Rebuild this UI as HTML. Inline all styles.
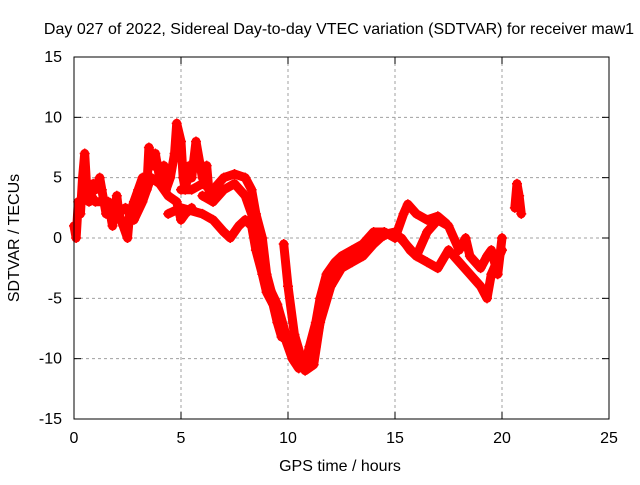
<!DOCTYPE html>
<html><head><meta charset="utf-8"><style>
body{margin:0;background:#fff}
svg text{font-family:"Liberation Sans",sans-serif;font-size:16px;fill:#000}
</style></head><body>
<svg id="chart" width="640" height="480" xmlns="http://www.w3.org/2000/svg">
<rect width="640" height="480" fill="#fff"/>
<text x="339" y="34" text-anchor="middle">Day 027 of 2022, Sidereal Day-to-day VTEC variation (SDTVAR) for receiver maw1</text>
<text x="340" y="471" text-anchor="middle">GPS time / hours</text>
<text transform="translate(19,238) rotate(-90)" text-anchor="middle">SDTVAR / TECUs</text>
<g id="grid"></g>
<g id="ticks"></g>
<g id="series"></g>
<rect x="74" y="57" width="535" height="362" fill="none" stroke="#000"/>
</svg>
<script>
const xTicks=[0,5,10,15,20,25];
const yTicks=[-15,-10,-5,0,5,10,15];
const trackA=[[0,1],[0.1,0],[0.2,3],[0.3,2],[0.4,5],[0.5,7],[0.6,4],[0.7,3],[0.9,4.5],[1,4],[1.2,5],[1.3,4],[1.5,2],[1.6,3],[1.8,1],[2,3.5],[2.1,2],[2.3,1],[2.5,0],[2.6,2],[2.8,3],[3,4],[3.2,5],[3.4,4],[3.5,7.5],[3.7,6],[3.8,7],[4,5],[4.2,6],[4.3,4],[4.5,5],[4.7,7],[4.8,9.5],[5,8],[5.1,5],[5.2,4],[5.4,6],[5.5,5],[5.7,8],[5.9,6],[6,5],[6.2,6],[6.3,4],[6.5,3]];
const trackA2=[[0.3,3],[0.6,4],[1,3],[1.4,3],[1.7,2],[2,2],[2.4,2.5],[2.8,1.5],[3.2,3],[3.6,5],[4,4.5],[4.4,3.5],[4.8,3],[5,1.5],[5.2,2],[5.5,2.5]];
const trackB=[[5,4],[5.5,4],[6,4.5],[6.5,4],[7,5],[7.5,5.3],[8,5],[8.3,4],[8.5,2],[8.8,0],[9,-3],[9.3,-5],[9.5,-6.5],[9.8,-8],[10.2,-10],[10.5,-10.8],[10.8,-10.5],[11,-9],[11.3,-7],[11.5,-5],[11.8,-3],[12.2,-2],[12.5,-1.5],[13,-1],[13.5,-0.5],[14,0.5],[14.5,0.5],[15,0],[15.4,2],[15.6,2.8],[16,2],[16.5,1.5],[17,1.8],[17.4,1.2]];
const trackB2=[[6,3.5],[6.5,3],[7,4],[7.5,4.5],[8,3.5],[8.5,1],[8.8,-1.5],[9.1,-4],[9.5,-5.5],[9.9,-8],[10.3,-9.5],[10.6,-10],[11,-10.2],[11.3,-9],[11.6,-6],[12,-3.5],[12.5,-2],[13,-1.5],[13.5,-1],[14,0],[14.5,0.2]];
const trackC=[[4.4,2],[5,2.5],[6,2],[6.5,1.5],[7,0.5],[7.3,0],[7.7,1],[8,1.5],[8.3,1],[8.5,-1],[8.8,-3],[9,-4.5],[9.3,-5.5],[9.5,-7],[9.7,-8.2]];
const trackD=[[9.8,-0.5],[10,-4],[10.3,-8],[10.8,-11],[11.2,-10.5],[11.5,-7],[12,-4],[12.5,-2.5],[13,-2],[13.5,-1.5],[14,-0.5],[14.5,0.3],[15,0.5],[15.5,-0.5],[16,-1.5],[16.5,-2],[17,-2.5],[17.5,-1],[18,-2],[18.5,-3],[19,-4],[19.3,-5],[19.5,-3],[20,-1]];
const trackE=[[15.3,0],[15.7,-1],[16,-1.5],[16.5,0.5],[17,1.5],[17.5,1],[18,-1],[18.3,0],[18.5,-1.5],[19,-2.5],[19.3,-1.5],[19.5,-1],[19.8,-3],[20,0]];
const trackF=[[20.6,2.5],[20.7,4.5],[20.8,3.5],[20.9,2]];
const tracks=[trackA,trackA2,trackB,trackB2,trackC,trackD,trackE,trackF];
const X=v=>74+v*535/25, Y=v=>238-v*362/30;
const NS="http://www.w3.org/2000/svg";
function mk(tag,attrs,parent){const e=document.createElementNS(NS,tag);for(const k in attrs)e.setAttribute(k,attrs[k]);parent.appendChild(e);return e;}
const grid=document.getElementById('grid'),ticks=document.getElementById('ticks'),ser=document.getElementById('series');
xTicks.forEach(t=>{
 if(t>0&&t<25){const l=mk('line',{x1:X(t),x2:X(t),y1:57,y2:419,stroke:'#a0a0a0','stroke-dasharray':'3,3'},grid);
 
 }
 mk('line',{x1:X(t),x2:X(t),y1:419,y2:412,stroke:'#000'},ticks);mk('line',{x1:X(t),x2:X(t),y1:57,y2:64,stroke:'#000'},ticks);
 const tx=mk('text',{x:X(t),y:443,'text-anchor':'middle'},ticks);tx.textContent=t;
 
 
});
yTicks.forEach(t=>{
 if(t>-15&&t<15){const l=mk('line',{x1:74,x2:609,y1:Y(t),y2:Y(t),stroke:'#a0a0a0','stroke-dasharray':'3,3'},grid);
 
 }
 mk('line',{x1:74,x2:81,y1:Y(t),y2:Y(t),stroke:'#000'},ticks);mk('line',{x1:609,x2:602,y1:Y(t),y2:Y(t),stroke:'#000'},ticks);
 const tx=mk('text',{x:62,y:Y(t)+5,'text-anchor':'end'},ticks);tx.textContent=t;
 
 
});
tracks.forEach((tr,i)=>{
 const pl=mk('polyline',{points:tr.map(p=>X(p[0])+','+Y(p[1])).join(' '),fill:'none',stroke:'#ff0000','stroke-width':9,'stroke-linejoin':'round','stroke-linecap':'round'},ser);
 
 
 tr.forEach(p=>{
  const x=X(p[0]),y=Y(p[1]);
  const m=mk('path',{d:`M${x-5},${y}H${x+5}M${x},${y-5}V${y+5}`,stroke:'#ff0000','stroke-width':1.5},ser);
  
  
 });
});
</script>
</body></html>
